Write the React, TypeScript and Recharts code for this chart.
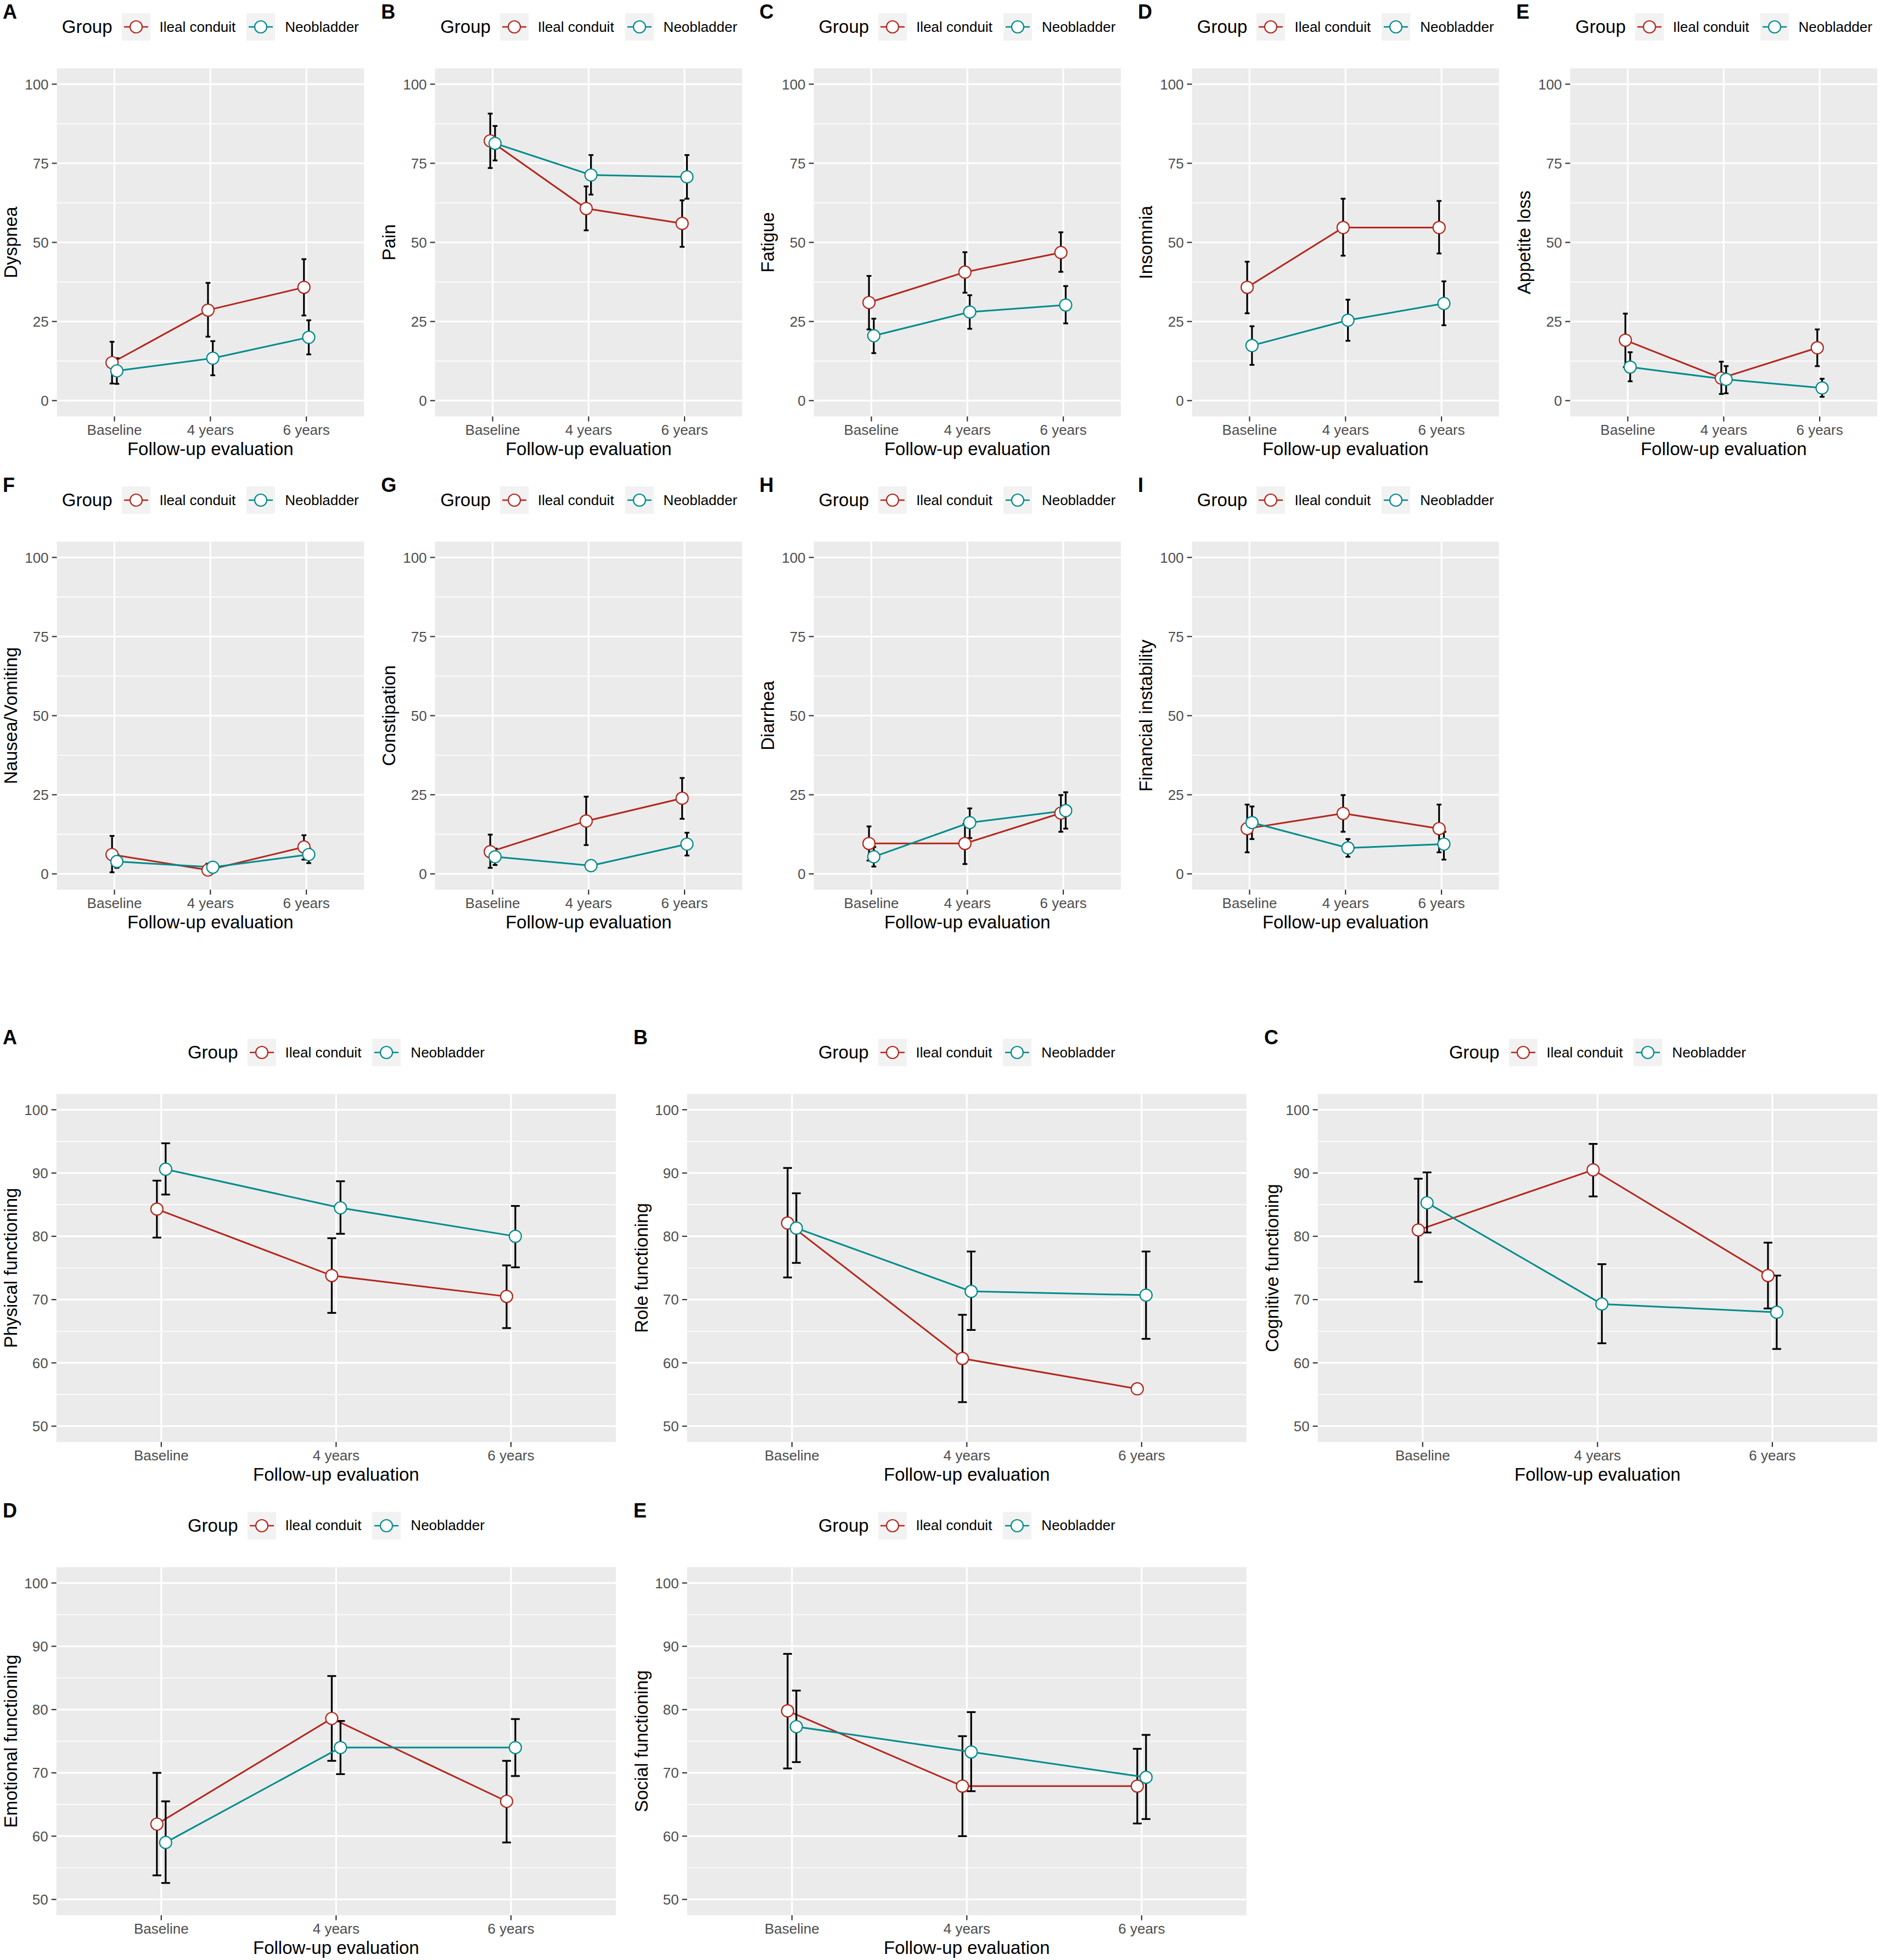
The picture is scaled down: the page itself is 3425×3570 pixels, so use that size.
import React from "react";
import { LineChart, Line, XAxis, YAxis, CartesianGrid, ErrorBar } from "recharts";

const FONT = '"Liberation Sans", Arial, Helvetica, sans-serif';
const RED = "#B4261C";
const TEAL = "#008B8B";

const TIMES = ["Baseline", "4 years", "6 years"];
const GROUPS = ["Ileal conduit", "Neobladder"];

const SYMPTOM_TICKS = [0, 25, 50, 75, 100];
const SYMPTOM_MINOR = [12.5, 37.5, 62.5, 87.5];
const FUNCTION_TICKS = [50, 60, 70, 80, 90, 100];
const FUNCTION_MINOR = [55, 65, 75, 85, 95];

// each row: [mean, lower CI, upper CI] for Baseline, 4 years, 6 years
const DYSPNEA_IC = [[12.0, 5.4, 18.6], [28.6, 20.2, 37.2], [35.8, 26.9, 44.7]];
const DYSPNEA_NB = [[9.4, 5.3, 13.4], [13.4, 8.0, 18.8], [20.0, 14.6, 25.4]];
const PAIN_IC = [[82.1, 73.5, 90.7], [60.7, 53.8, 67.7], [56.0, 48.6, 63.3]];
const PAIN_NB = [[81.3, 75.9, 86.8], [71.3, 65.1, 77.6], [70.7, 63.8, 77.6]];
const FATIGUE_IC = [[31.0, 22.5, 39.4], [40.6, 34.1, 46.9], [46.8, 40.7, 53.2]];
const FATIGUE_NB = [[20.5, 15.0, 25.9], [28.0, 22.7, 33.3], [30.2, 24.4, 36.2]];
const INSOMNIA_IC = [[35.8, 27.6, 43.9], [54.7, 45.8, 63.8], [54.7, 46.5, 63.1]];
const INSOMNIA_NB = [[17.4, 11.3, 23.5], [25.4, 18.9, 31.9], [30.7, 23.8, 37.7]];
const APPETITE_IC = [[19.1, 10.6, 27.5], [7.1, 2.1, 12.3], [16.7, 10.9, 22.5]];
const APPETITE_NB = [[10.6, 6.1, 15.3], [6.7, 2.3, 10.9], [4.0, 1.2, 6.9]];
const NAUSEA_IC = [[6.1, 0.5, 12.0], [1.2, 0.0, 3.2], [8.5, 4.5, 12.2]];
const NAUSEA_NB = [[3.9, 1.9, 6.0], [2.1, 0.8, 3.4], [6.1, 3.4, 8.0]];
const CONSTIPATION_IC = [[7.0, 1.9, 12.4], [16.7, 9.1, 24.4], [23.9, 17.4, 30.3]];
const CONSTIPATION_NB = [[5.4, 2.8, 8.0], [2.6, 0.9, 4.2], [9.4, 5.8, 13.0]];
const DIARRHEA_IC = [[9.6, 4.2, 15.0], [9.6, 3.1, 15.8], [19.2, 13.3, 24.9]];
const DIARRHEA_NB = [[5.4, 2.3, 8.5], [16.2, 11.3, 20.7], [20.0, 14.3, 25.8]];
const FINANCIAL_IC = [[14.3, 6.8, 21.9], [19.1, 13.3, 24.9], [14.3, 6.8, 21.9]];
const FINANCIAL_NB = [[16.2, 11.0, 21.3], [8.2, 5.4, 11.0], [9.4, 4.5, 13.3]];

const PHYSICAL_IC = [[84.3, 79.8, 88.8], [73.8, 67.9, 79.7], [70.5, 65.5, 75.4]];
const PHYSICAL_NB = [[90.6, 86.6, 94.7], [84.5, 80.4, 88.7], [80.0, 75.1, 84.8]];
const ROLE_IC = [[82.1, 73.5, 90.8], [60.7, 53.8, 67.6], [55.9, 55.9, 55.9]];
const ROLE_NB = [[81.3, 75.8, 86.8], [71.3, 65.2, 77.6], [70.7, 63.8, 77.6]];
const COGNITIVE_IC = [[81.0, 72.8, 89.1], [90.5, 86.3, 94.6], [73.8, 68.6, 79.0]];
const COGNITIVE_NB = [[85.3, 80.6, 90.1], [69.3, 63.1, 75.6], [68.0, 62.2, 73.8]];
const EMOTIONAL_IC = [[61.9, 53.8, 70.0], [78.6, 71.9, 85.3], [65.5, 59.0, 71.9]];
const EMOTIONAL_NB = [[59.0, 52.6, 65.5], [74.0, 69.8, 78.2], [74.0, 69.5, 78.5]];
const SOCIAL_IC = [[79.8, 70.7, 88.8], [67.9, 60.0, 75.8], [67.9, 62.0, 73.8]];
const SOCIAL_NB = [[77.3, 71.7, 83.0], [73.3, 67.1, 79.6], [69.3, 62.7, 76.0]];

const SYMPTOM_PANELS = [
  { letter: "A", title: "Dyspnea", ic: DYSPNEA_IC, nb: DYSPNEA_NB },
  { letter: "B", title: "Pain", ic: PAIN_IC, nb: PAIN_NB },
  { letter: "C", title: "Fatigue", ic: FATIGUE_IC, nb: FATIGUE_NB },
  { letter: "D", title: "Insomnia", ic: INSOMNIA_IC, nb: INSOMNIA_NB },
  { letter: "E", title: "Appetite loss", ic: APPETITE_IC, nb: APPETITE_NB },
  { letter: "F", title: "Nausea/Vomiting", ic: NAUSEA_IC, nb: NAUSEA_NB },
  { letter: "G", title: "Constipation", ic: CONSTIPATION_IC, nb: CONSTIPATION_NB },
  { letter: "H", title: "Diarrhea", ic: DIARRHEA_IC, nb: DIARRHEA_NB },
  { letter: "I", title: "Financial instability", ic: FINANCIAL_IC, nb: FINANCIAL_NB },
];

const FUNCTION_PANELS = [
  { letter: "A", title: "Physical functioning", ic: PHYSICAL_IC, nb: PHYSICAL_NB },
  { letter: "B", title: "Role functioning", ic: ROLE_IC, nb: ROLE_NB },
  { letter: "C", title: "Cognitive functioning", ic: COGNITIVE_IC, nb: COGNITIVE_NB },
  { letter: "D", title: "Emotional functioning", ic: EMOTIONAL_IC, nb: EMOTIONAL_NB },
  { letter: "E", title: "Social functioning", ic: SOCIAL_IC, nb: SOCIAL_NB },
];

const DODGE = 0.025;
const PANEL_H = 862;
const PLOT_TOP = 124.5;
const X_AXIS_H = 103.5;

function toSeries(rows: number[][], shift: number) {
  return rows.map(([m, lo, hi], i) => ({ x: i + 1 + shift, y: m, err: [m - lo, hi - m] }));
}

function YTitle(props: any) {
  const vb = props.viewBox || { x: 0, y: 0, width: 0, height: 0 };
  const x = vb.x + 19;
  const y = vb.y + vb.height / 2;
  return (
    <text x={x} y={y} transform={`rotate(-90, ${x}, ${y})`} textAnchor="middle" dominantBaseline="central"
      fontSize={33} fontFamily={FONT} fill="#000">
      {props.text}
    </text>
  );
}

function XTitle(props: any) {
  const vb = props.viewBox || { x: 0, y: 0, width: 0, height: 0 };
  return (
    <text x={vb.x + vb.width / 2} y={vb.y + 59} textAnchor="middle" dominantBaseline="central"
      fontSize={33} fontFamily={FONT} fill="#000">
      Follow-up evaluation
    </text>
  );
}

function LegendKey({ color }: { color: string }) {
  return (
    <svg width={52} height={50} style={{ display: "block" }}>
      <rect width={52} height={50} fill="#F2F2F2" />
      <line x1={4} y1={25} x2={48} y2={25} stroke={color} strokeWidth={2.6} />
      <circle cx={26} cy={25} r={11} fill="#fff" stroke={color} strokeWidth={2.2} />
    </svg>
  );
}

function Panel({ panel, width, plotLeft, plotRight, ticks, minor, domain, cap }: any) {
  const ic = toSeries(panel.ic, -DODGE);
  const nb = toSeries(panel.nb, DODGE);
  const tickStyle = { fontSize: 26, fill: "#4D4D4D", fontFamily: FONT };
  const tickLine = { stroke: "#333333", strokeWidth: 2.2 };
  return (
    <div style={{ position: "relative", width, height: PANEL_H }}>
      <div style={{ position: "absolute", left: 5, top: 4, fontFamily: FONT, fontWeight: 700, fontSize: 36, lineHeight: "36px" }}>
        {panel.letter}
      </div>
      <div style={{
        position: "absolute", left: plotLeft, width: plotRight - plotLeft, top: 24, height: 50,
        display: "flex", justifyContent: "center", alignItems: "center", fontFamily: FONT, whiteSpace: "nowrap",
      }}>
        <span style={{ fontSize: 33, marginRight: 17 }}>Group</span>
        <LegendKey color={RED} />
        <span style={{ fontSize: 26, marginLeft: 17, marginRight: 20 }}>{GROUPS[0]}</span>
        <LegendKey color={TEAL} />
        <span style={{ fontSize: 26, marginLeft: 18 }}>{GROUPS[1]}</span>
      </div>
      <LineChart width={width} height={PANEL_H} margin={{ top: PLOT_TOP, right: width - plotRight, bottom: 0, left: 0 }}>
        <CartesianGrid fill="#EBEBEB" stroke="#FFFFFF" strokeWidth={1.6} vertical={false} horizontalValues={minor} />
        <CartesianGrid fill="none" stroke="#FFFFFF" strokeWidth={3.2} horizontalValues={ticks} verticalValues={[1, 2, 3]} />
        <XAxis type="number" dataKey="x" domain={[0.4, 3.6]} ticks={[1, 2, 3]} allowDataOverflow
          tickFormatter={(v) => TIMES[Math.round(v) - 1]} height={X_AXIS_H} axisLine={false}
          tickSize={9} tickMargin={6} tickLine={tickLine} tick={tickStyle} label={<XTitle />} />
        <YAxis type="number" domain={domain} ticks={ticks} allowDataOverflow width={plotLeft}
          axisLine={false} tickSize={9} tickMargin={6} tickLine={tickLine} tick={tickStyle}
          label={<YTitle text={panel.title} />} />
        <Line data={ic} dataKey="y" stroke={RED} strokeWidth={3} dot={false} isAnimationActive={false}>
          <ErrorBar dataKey="err" direction="y" width={cap} stroke="#000" strokeWidth={3.2} />
        </Line>
        <Line data={nb} dataKey="y" stroke={TEAL} strokeWidth={3} dot={false} isAnimationActive={false}>
          <ErrorBar dataKey="err" direction="y" width={cap} stroke="#000" strokeWidth={3.2} />
        </Line>
        <Line data={ic} dataKey="y" stroke="none" isAnimationActive={false}
          dot={{ r: 11, fill: "#FFFFFF", stroke: RED, strokeWidth: 2.2 }} activeDot={false} />
        <Line data={nb} dataKey="y" stroke="none" isAnimationActive={false}
          dot={{ r: 11, fill: "#FFFFFF", stroke: TEAL, strokeWidth: 2.2 }} activeDot={false} />
      </LineChart>
    </div>
  );
}

export default function App() {
  return (
    <div style={{ position: "absolute", left: 0, top: 0, width: 3425, height: 3570, overflow: "hidden", background: "#fff" }}>
      {SYMPTOM_PANELS.map((p, i) => (
        <div key={"s" + i} style={{ position: "absolute", left: (i % 5) * 689.3, top: Math.floor(i / 5) * 862 }}>
          <Panel panel={p} width={689} plotLeft={103.6} plotRight={663} ticks={SYMPTOM_TICKS}
            minor={SYMPTOM_MINOR} domain={[-5, 105]} cap={4.4} />
        </div>
      ))}
      {FUNCTION_PANELS.map((p, i) => (
        <div key={"f" + i} style={{ position: "absolute", left: (i % 3) * 1149, top: 1868 + Math.floor(i / 3) * 861.5 }}>
          <Panel panel={p} width={1149} plotLeft={102.7} plotRight={1122} ticks={FUNCTION_TICKS}
            minor={FUNCTION_MINOR} domain={[47.5, 102.5]} cap={8} />
        </div>
      ))}
    </div>
  );
}
